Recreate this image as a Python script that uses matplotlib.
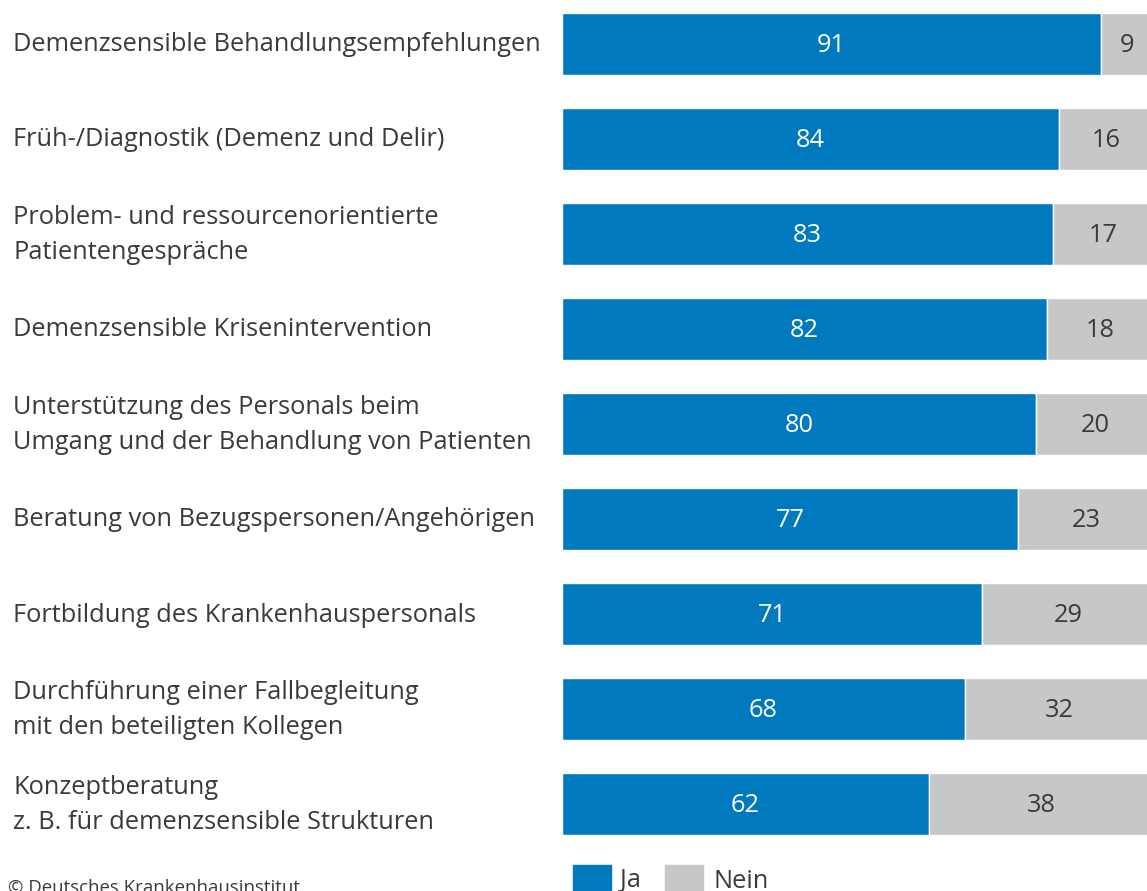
import matplotlib.pyplot as plt
from matplotlib.patches import Rectangle

plt.rcParams['font.family'] = ['Open Sans', 'DejaVu Sans']

labels = [
    "Demenzsensible Behandlungsempfehlungen",
    "Früh-/Diagnostik (Demenz und Delir)",
    "Problem- und ressourcenorientierte\nPatientengespräche",
    "Demenzsensible Krisenintervention",
    "Unterstützung des Personals beim\nUmgang und der Behandlung von Patienten",
    "Beratung von Bezugspersonen/Angehörigen",
    "Fortbildung des Krankenhauspersonals",
    "Durchführung einer Fallbegleitung\nmit den beteiligten Kollegen",
    "Konzeptberatung\nz. B. für demenzsensible Strukturen",
]
ja = [91, 84, 83, 82, 80, 77, 71, 68, 62]
nein = [9, 16, 17, 18, 20, 23, 29, 32, 38]

blue = "#0079bf"
grey = "#c6c7c8"
txt = "#3a3a3a"
fs = 18.3

W, H = 1147, 891
fig = plt.figure(figsize=(W / 100, H / 100), dpi=100)
# the chart runs a little past the right edge, as in the original
ax = fig.add_axes([562 / W, (H - 835) / H, 592 / W, 822 / H])

bh = 62 / 95
ys = list(range(len(labels)))
ax.barh(ys, ja, height=bh, color=blue, edgecolor="white", linewidth=1)
ax.barh(ys, nein, left=ja, height=bh, color=grey, edgecolor="white", linewidth=1)
ax.set_xlim(0, 100)
ax.set_ylim(len(labels) - 1 + bh / 2, -bh / 2)
ax.axis("off")

for y, a, n in zip(ys, ja, nein):
    ax.text(a / 2, y + 0.02, str(a), color="white", fontsize=fs, ha="center", va="center")
    ax.text(a + n / 2, y + 0.02, str(n), color=txt, fontsize=fs, ha="center", va="center")

for y, lab in zip(ys, labels):
    yf = ax.transData.transform((0, y))[1] / H
    fig.text(13 / W, yf - 1 / H, lab, color=txt, fontsize=fs, ha="left", va="center",
             linespacing=1.52)

# legend
fig.patches.append(Rectangle((573 / W, 0), 38 / W, 26 / H, transform=fig.transFigure,
                             color=blue))
fig.text(620 / W, 10 / H, "Ja", color=txt, fontsize=fs, ha="left", va="center")
fig.patches.append(Rectangle((665 / W, 0), 38 / W, 26 / H, transform=fig.transFigure,
                             color=grey))
fig.text(713 / W, 10 / H, "Nein", color=txt, fontsize=fs, ha="left", va="center")

fig.text(8 / W, 12 / H, "© Deutsches Krankenhausinstitut", color=txt, fontsize=13.4,
         ha="left", va="top")

fig.savefig("out.png", dpi=100)
